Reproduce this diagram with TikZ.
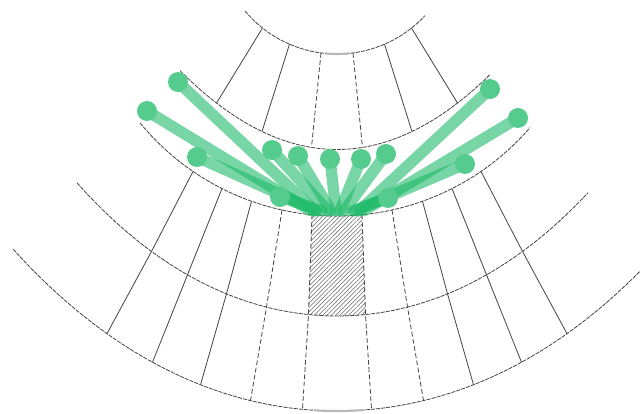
\documentclass[tikz,border=0pt]{standalone}
\usetikzlibrary{patterns.meta}
\definecolor{gridgray}{RGB}{70,70,70}
\definecolor{fangreen}{RGB}{30,185,105}
\pgfdeclarelayer{gridlayer}
\pgfdeclarelayer{linklayer}
\pgfsetlayers{gridlayer,linklayer,main}
\begin{document}
\begin{tikzpicture}[x=0.3mm,y=-0.3mm,
  declare function={uu(\x)=((\x-337)/100)*((\x-337)/100);
    arcA(\x)=-66+sqrt(14400-(\x-337)*(\x-337));
    arcB(\x)=149.5-32*uu(\x);
    arcC(\x)=-39+100*sqrt(6.5025-uu(\x));
    arcD(\x)=316-17.8*uu(\x)-0.28*uu(\x)*uu(\x);
    arcE(\x)=411-13.8*uu(\x)-0.155*uu(\x)*uu(\x);},
  arcline/.style={draw=gridgray, line width=0.7pt, dash pattern=on 3.5pt off 0.9pt},
  ray/.style={draw=gridgray, line width=0.7pt},
  dray/.style={draw=gridgray, line width=0.7pt, dash pattern=on 4pt off 2.2pt},
  capseg/.style={draw=gray!55, line width=1.8pt},
  link/.style={draw=fangreen, line width=3.4mm, line cap=round, opacity=0.6},
  dot/.style={circle, fill=fangreen!75!white, inner sep=0pt, minimum size=6mm},
]
\useasboundingbox (0,0) rectangle (643,414);

\begin{pgfonlayer}{gridlayer}
% hatched cell
\fill[pattern={Lines[angle=45,distance=2.6pt,line width=0.45pt]}, pattern color=gray!80!black]
  (312,{arcC(312)}) -- plot[domain=312:362,samples=10] (\x,{arcC(\x)})
  -- (365.5,{arcD(365.5)}) -- plot[domain=365.5:308.5,samples=10] (\x,{arcD(\x)}) -- cycle;
% arcs
\draw[arcline] plot[domain=245:425,samples=50] (\x,{arcA(\x)});
\draw[arcline] plot[domain=180:490,samples=60] (\x,{arcB(\x)});
\draw[arcline] plot[domain=140:530,samples=70] (\x,{arcC(\x)});
\draw[arcline] plot[domain=77:588,samples=80] (\x,{arcD(\x)});
\draw[arcline] plot[domain=13:640,samples=90] (\x,{arcE(\x)});
\draw[capseg] plot[domain=326:349,samples=8] (\x,{arcA(\x)});
\draw[capseg] plot[domain=314:362,samples=10] (\x,{arcE(\x)});
% rays, top band
\draw[ray]  (262.5,{arcA(262.5)}) -- (216.5,{arcB(216.5)});
\draw[ray]  (289.5,{arcA(289.5)}) -- (262,{arcB(262)});
\draw[dray] (321,{arcA(321)}) -- (311.5,{arcB(311.5)});
\draw[dray] (353,{arcA(353)}) -- (362.5,{arcB(362.5)});
\draw[ray]  (384.5,{arcA(384.5)}) -- (412,{arcB(412)});
\draw[ray]  (411.5,{arcA(411.5)}) -- (457.5,{arcB(457.5)});
% rays, lower band
\draw[ray]  (193,{arcC(193)}) -- (151.5,{arcD(151.5)}) -- (107,{arcE(107)});
\draw[ray]  (222,{arcC(222)}) -- (187.5,{arcD(187.5)}) -- (152.5,{arcE(152.5)});
\draw[ray]  (251.5,{arcC(251.5)}) -- (226.5,{arcD(226.5)}) -- (200.5,{arcE(200.5)});
\draw[dray] (282,{arcC(282)}) -- (266.5,{arcD(266.5)}) -- (250.5,{arcE(250.5)});
\draw[dray] (312,{arcC(312)}) -- (308.5,{arcD(308.5)}) -- (302.5,{arcE(302.5)});
\draw[dray] (362,{arcC(362)}) -- (365.5,{arcD(365.5)}) -- (371.5,{arcE(371.5)});
\draw[dray] (392,{arcC(392)}) -- (407.5,{arcD(407.5)}) -- (423.5,{arcE(423.5)});
\draw[ray]  (422.5,{arcC(422.5)}) -- (447.5,{arcD(447.5)}) -- (473.5,{arcE(473.5)});
\draw[ray]  (452,{arcC(452)}) -- (486.5,{arcD(486.5)}) -- (521.5,{arcE(521.5)});
\draw[ray]  (481,{arcC(481)}) -- (522.5,{arcD(522.5)}) -- (567,{arcE(567)});
\end{pgfonlayer}

% dots
\node[dot] (D1) at (178,82) {};
\node[dot] (D2) at (147,111) {};
\node[dot] (D3) at (197,157) {};
\node[dot] (D4) at (272,150) {};
\node[dot] (D5) at (298,156) {};
\node[dot] (D6) at (330,159) {};
\node[dot] (D7) at (361,159) {};
\node[dot] (D8) at (386,154) {};
\node[dot] (D9) at (465,164) {};
\node[dot] (D10) at (490,89) {};
\node[dot] (D11) at (518,118) {};
\node[dot] (D12) at (280,197) {};
\node[dot] (D13) at (388,198) {};

% hub ends
\coordinate (e1) at (315,211);
\coordinate (e2) at (311,211);
\coordinate (e3) at (317,211);
\coordinate (e4) at (328,211);
\coordinate (e5) at (331,211);
\coordinate (e6) at (336,211);
\coordinate (e7) at (340,211);
\coordinate (e8) at (344,211);
\coordinate (e9) at (355,211);
\coordinate (e10) at (359,211);
\coordinate (e11) at (363,211);
\coordinate (e12) at (322,211);
\coordinate (e13) at (352,211);

\begin{pgfonlayer}{linklayer}
\foreach \i in {1,...,13} {\draw[link] (D\i.center) -- (e\i);}
\end{pgfonlayer}
\end{tikzpicture}
\end{document}
